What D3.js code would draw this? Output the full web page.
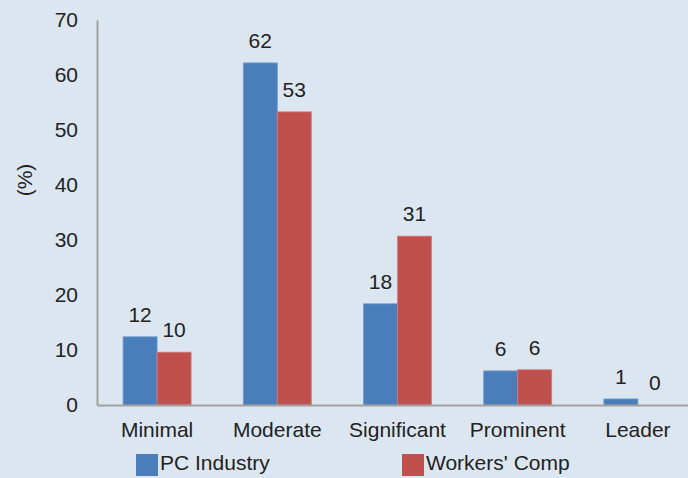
<!DOCTYPE html>
<html>
<head>
<meta charset="utf-8">
<script src="https://cdn.jsdelivr.net/npm/d3@7"></script>
<style>
  html, body { margin: 0; padding: 0; background: #dce6f0; }
  svg { display: block; font-family: "Liberation Sans", Arial, sans-serif; }
</style>
</head>
<body>
<svg id="chart" width="688" height="478"></svg>
<script>
// Share of respondents by level (%)
const categories = ["Minimal", "Moderate", "Significant", "Prominent", "Leader"];
const seriesNames = ["PC Industry", "Workers' Comp"];
const pcIndustry = [12.4, 62.2, 18.4, 6.2, 1.1];
const workersComp = [9.6, 53.3, 30.7, 6.4, 0];
const yTicks = [0, 10, 20, 30, 40, 50, 60, 70];
const colors = ["#4a7ebb", "#c0504d"];

(function draw() {
  const svg = d3.select("#chart");
  const plotLeft = 97, plotTop = 20, plotBottom = 405, plotRight = 698;
  const fs = 21;
  const ink = "#222";
  const font = "Liberation Sans, Arial, sans-serif";

  const x = d3.scaleBand().domain(categories).range([plotLeft, plotRight]);
  const groupW = 68;
  const xs = d3.scaleBand().domain(seriesNames).range([0, groupW]);
  const y = d3.scaleLinear().domain([0, 70]).range([plotBottom, plotTop]);

  const series = [pcIndustry, workersComp];

  // Y axis: line only, labels without ticks
  const yAxis = svg.append("g")
    .attr("transform", `translate(${plotLeft},0)`)
    .call(d3.axisLeft(y).tickValues(yTicks).tickSize(0).tickPadding(19).tickFormat(d3.format("d")));
  yAxis.select(".domain").attr("stroke", "#a0a0a0").attr("stroke-width", 2);
  yAxis.selectAll("text").attr("font-size", fs).attr("fill", ink).attr("font-family", font);

  // Bars with value labels
  categories.forEach((c, i) => {
    const gx = x(c) + x.bandwidth() / 2 - groupW / 2;
    series.forEach((vals, s) => {
      const v = vals[i];
      const bx = gx + xs(seriesNames[s]);
      if (v > 0) {
        svg.append("rect")
          .attr("x", bx)
          .attr("y", y(v))
          .attr("width", xs.bandwidth())
          .attr("height", y(0) - y(v))
          .attr("fill", colors[s])
          .attr("stroke", s === 0 ? "#6f9bd0" : "#d77b78")
          .attr("stroke-width", 0.8);
      }
      svg.append("text")
        .attr("x", bx + xs.bandwidth() / 2)
        .attr("y", y(v) - 15)
        .attr("text-anchor", "middle")
        .attr("font-size", fs)
        .attr("fill", ink)
        .text(d3.format(".0f")(v));
    });
  });

  // X axis line and category labels
  const xAxis = svg.append("g")
    .attr("transform", `translate(0,${plotBottom})`)
    .call(d3.axisBottom(x).tickSize(0).tickPadding(17));
  xAxis.select(".domain").attr("stroke", "#a0a0a0").attr("stroke-width", 2);
  xAxis.selectAll("text").attr("font-size", fs).attr("fill", ink).attr("font-family", font);

  // Y axis title
  svg.append("text")
    .attr("transform", "translate(32,180) rotate(-90)")
    .attr("text-anchor", "middle")
    .attr("font-size", fs)
    .attr("fill", ink)
    .text("(%)");

  // Legend
  const legendX = [136, 402];
  seriesNames.forEach((name, s) => {
    const g = svg.append("g").attr("transform", `translate(${legendX[s]},454)`);
    g.append("rect").attr("width", 22).attr("height", 22).attr("fill", colors[s]);
    g.append("text").attr("x", 24).attr("y", 15.5).attr("font-size", fs).attr("fill", ink).text(name);
  });
})();
</script>
</body>
</html>
